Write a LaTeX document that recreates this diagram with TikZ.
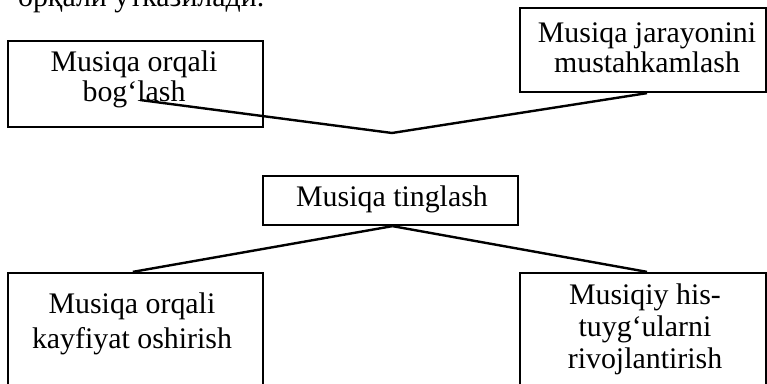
\documentclass[tikz,border=0pt]{standalone}
\usepackage{fontspec}
\setmainfont{Liberation Serif}
\begin{document}
\begin{tikzpicture}[x=0.75pt,y=-0.75pt,line width=1.7pt,
  box/.style={draw,rectangle,inner sep=0pt},
  lbl/.style={anchor=base,inner sep=0pt,align=center,font=\fontsize{22.4}{#1}\selectfont},
  conn/.style={draw,line width=1.8pt,line join=miter}]
\useasboundingbox (0,0) rectangle (767,384);
\clip (0,0) rectangle (767,384);
% cut-off text at top
\node[anchor=base west,inner sep=0pt,font=\fontsize{22.4}{24}\selectfont] (top) at (17,7) {орқали ўтказилади.};
% boxes
\node[box,minimum width=191.25pt,minimum height=64.5pt] (b1) at (135.5,84) {};
\node[box,minimum width=184.5pt,minimum height=63pt] (b2) at (643,50) {};
\node[box,minimum width=191.25pt,minimum height=36.75pt] (b3) at (390.5,200.5) {};
\node[box,minimum width=191.25pt,minimum height=95.25pt] (b4) at (135.5,336.5) {};
\node[box,minimum width=184.5pt,minimum height=95.25pt] (b5) at (643,336.5) {};
% texts
\node[lbl=22.5] (t1) at (134,72) {\begin{tabular}[t]{@{}c@{}}Musiqa orqali\\bog‘lash\end{tabular}};
\node[lbl=22] (t2) at (647,43) {\begin{tabular}[t]{@{}c@{}}Musiqa jarayonini\\mustahkamlash\end{tabular}};
\node[lbl=22.5] (t3) at (392,207) {Musiqa tinglash};
\node[lbl=26] (t4) at (132,314) {\begin{tabular}[t]{@{}c@{}}Musiqa orqali\\kayfiyat oshirish\end{tabular}};
\node[lbl=24] (t5) at (645,305) {\begin{tabular}[t]{@{}c@{}}Musiqiy his-\\tuyg‘ularni\\rivojlantirish\end{tabular}};
% connectors
\coordinate (v) at (392,133);
\coordinate (fe) at (140,100);
\draw[conn] ([xshift=3pt]b2.south) -- (v) -- (fe);
\draw[conn] ([xshift=1.5pt]b3.south) -- ([xshift=-2pt]b4.north);
\draw[conn] ([xshift=1.5pt]b3.south) -- ([xshift=3pt]b5.north);
\end{tikzpicture}
\end{document}
